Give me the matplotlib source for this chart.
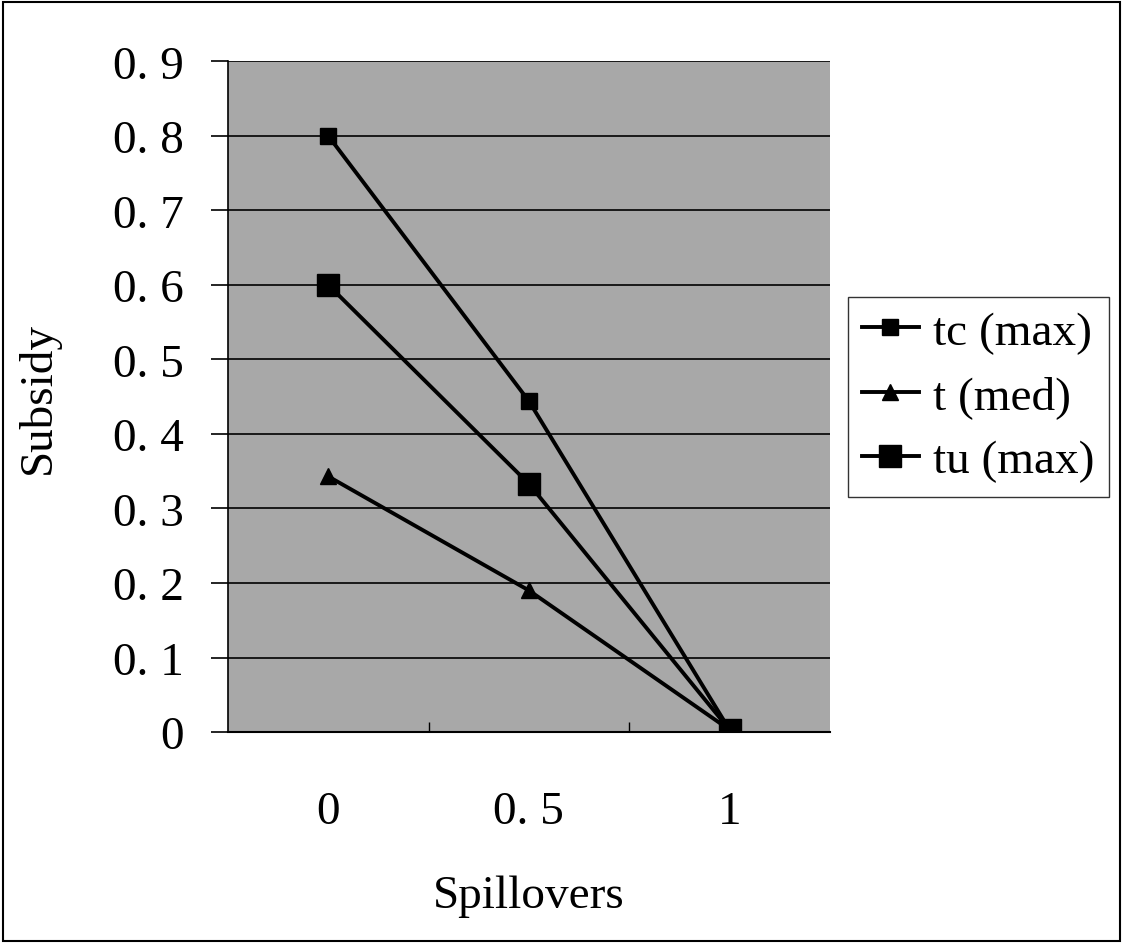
import matplotlib
matplotlib.use("Agg")
import matplotlib.pyplot as plt
from matplotlib.patches import Rectangle

# ── DATA ───────────────────────────────────────────────────────────────────────
categories = ["0", "0. 5", "1"]
tc_max = [0.80, 0.444, 0.003]
t_med = [0.343, 0.190, 0.003]
tu_max = [0.60, 0.333, 0.003]
y_ticks = [0, 0.1, 0.2, 0.3, 0.4, 0.5, 0.6, 0.7, 0.8, 0.9]
y_labels = ["0", "0. 1", "0. 2", "0. 3", "0. 4", "0. 5", "0. 6", "0. 7", "0. 8", "0. 9"]
series_labels = ["tc (max)", "t (med)", "tu (max)"]

FONT = "Liberation Serif"
FS = 34
plt.rcParams.update({"font.family": FONT})

fig = plt.figure(figsize=(11.23, 9.45), dpi=100)
ax = fig.add_axes([0.203, 0.2243, 0.536, 0.7097])
ax.set_facecolor("#a8a8a8")

x = list(range(len(categories)))
ax.plot(x, tc_max, color="black", lw=2.8, marker="s", ms=12, label=series_labels[0])
ax.plot(x, t_med, color="black", lw=2.8, marker="^", ms=12, label=series_labels[1])
ax.plot(x, tu_max, color="black", lw=2.8, marker="s", ms=16, label=series_labels[2])

ax.set_xlim(-0.5, 2.5)
ax.set_ylim(0, 0.9)
ax.set_yticks(y_ticks)
ax.set_yticklabels(y_labels, fontsize=FS)
ax.yaxis.grid(True, color="black", lw=1.2)
ax.set_axisbelow(True)
ax.tick_params(axis="y", direction="out", length=12, width=1.2, pad=20)

ax.set_xticks(x)
ax.set_xticklabels(categories, fontsize=FS)
ax.tick_params(axis="x", which="major", length=0, pad=42)
ax.set_xticks([0.5, 1.5], minor=True)
ax.tick_params(axis="x", which="minor", direction="in", length=7, width=1)

for side in ["top", "right"]:
    ax.spines[side].set_visible(False)
ax.spines["left"].set_linewidth(1.2)
ax.spines["bottom"].set_linewidth(1.5)

ax.set_xlabel("Spillovers", fontsize=FS, labelpad=30)
ax.set_ylabel("Subsidy", fontsize=FS, labelpad=38)

leg = ax.legend(loc="center left", bbox_to_anchor=(1.03, 0.5), fontsize=FS,
                frameon=True, fancybox=False, handlelength=1.2, handletextpad=0.3,
                borderpad=0.3, labelspacing=0.45, borderaxespad=0)
leg.get_frame().set_edgecolor("black")
leg.get_frame().set_linewidth(1)

fig.patches.append(Rectangle((0.003, 0.003), 0.994, 0.994, transform=fig.transFigure,
                             fill=False, edgecolor="black", lw=1.5))

plt.savefig("out.png", dpi=100)
